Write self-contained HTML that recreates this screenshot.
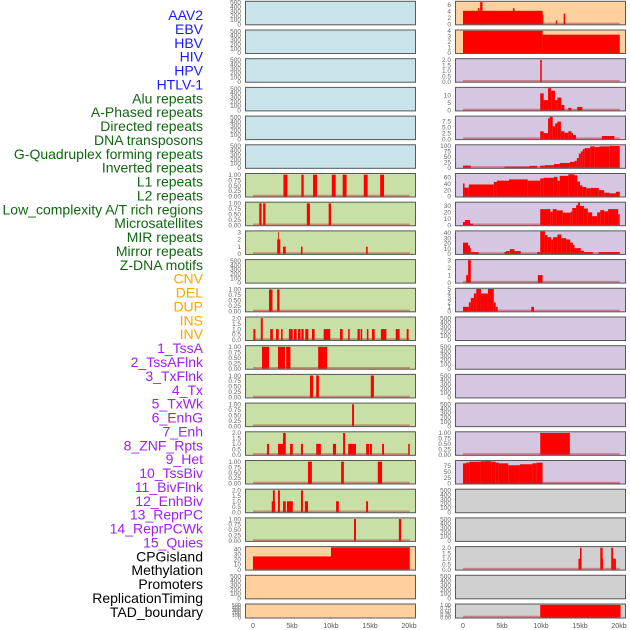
<!DOCTYPE html>
<html><head><meta charset="utf-8"><style>
html,body{margin:0;padding:0;background:#fff;}
svg{display:block;font-family:"Liberation Sans",sans-serif;}
</style></head><body>
<svg id="chart" width="630" height="630" viewBox="0 0 630 630" xmlns="http://www.w3.org/2000/svg">
<g id="labels"></g>
<g id="panels"></g>
<g id="axes"></g>
</svg>
<script>
const labelNames = ["AAV2","EBV","HBV","HIV","HPV","HTLV-1","Alu repeats","A-Phased repeats","Directed repeats","DNA transposons","G-Quadruplex forming repeats","Inverted repeats","L1 repeats","L2 repeats","Low_complexity A/T rich regions","Microsatellites","MIR repeats","Mirror repeats","Z-DNA motifs","CNV","DEL","DUP","INS","INV","1_TssA","2_TssAFlnk","3_TxFlnk","4_Tx","5_TxWk","6_EnhG","7_Enh","8_ZNF_Rpts","9_Het","10_TssBiv","11_BivFlnk","12_EnhBiv","13_ReprPC","14_ReprPCWk","15_Quies","CPGisland","Methylation","Promoters","ReplicationTiming","TAD_boundary"];
const labelGroups = [6,13,5,15,5];
const groupColors = ["#1a1aff","#116611","#ffa500","#a020f0","#000000"];
const xTicks = [0,5000,10000,15000,20000];
const xTickLabels = ["0","5kb","10kb","15kb","20kb"];

// segments: [startKb, endKb, value]
const L6 = [[3.9,4.4,1],[6.2,6.5,1],[7.7,8.2,1],[10.1,10.6,1],[11.5,12.0,1],[14.2,14.7,1],[16.3,16.8,1]];
const L7 = [[0.8,1.1,1],[1.3,1.6,1],[6.9,7.3,1],[9.7,10.0,1]];
const L8 = [[3.1,3.5,2],[3.2,3.3,3],[3.85,4.2,1],[6.15,6.35,1],[14.5,14.7,1]];
const L10 = [[2.05,2.5,1],[3.1,3.4,1]];
const L11 = [[0.05,0.3,1],[1.0,1.25,2],[2.2,2.55,1],[2.95,3.3,1],[3.6,3.8,1],[4.6,5.1,1],[5.25,5.6,1],[5.77,6.1,1],[6.2,6.5,1],[6.7,7.1,1],[7.56,7.9,1],[9.06,9.9,1],[11.15,11.5,1],[12.2,12.4,1],[13.4,13.7,1],[13.8,14.0,1],[14.6,14.8,1],[15.25,15.6,1],[16.4,17.1,1],[18.3,18.8,1],[19.7,19.95,1]];
const L12 = [[1.15,2.05,1],[3.2,4.1,1],[4.25,4.8,1],[8.35,9.5,1]];
const L13 = [[7.3,7.7,1],[8.1,8.45,1],[15.1,15.5,1]];
const L14 = [[12.7,12.95,1]];
const L15 = [[1.8,2.05,1],[3.2,3.85,1],[3.85,4.2,2],[4.75,5.1,1],[6.15,6.4,1],[8.1,8.7,1],[10.25,10.65,1],[11.55,11.8,2],[12.2,13.2,1],[14.5,14.9,1],[15.0,15.25,1],[16.55,16.8,1],[19.9,20.1,1]];
const L16 = [[7.05,7.55,1],[11.3,11.65,1],[16.0,16.55,1]];
const L17 = [[2.4,2.8,1],[2.55,2.8,2],[3.2,3.45,2],[3.85,4.2,1],[4.35,5.1,1],[6.15,6.4,2],[6.65,7.05,1],[10.65,11.0,1],[14.5,14.75,1]];
const L18 = [[12.95,13.2,1],[18.7,19.0,1]];
const L19 = [[0,10.0,26],[10.0,20.1,44]];
const R0 = [[0,10.2,4.2],[1.9,2.1,5],[2.2,2.5,6.9],[6.4,6.6,5],[10.2,10.3,3],[11.9,12.05,1.2],[12.9,13.1,3.3]];
const R1 = [[0,10.2,4],[10.2,20.1,3.3]];
const R2 = [[9.9,10.1,2]];
const R3 = [[9.9,10.34,11.3],[10.34,10.9,6.8],[10.9,11.3,14.7],[11.3,11.8,13],[11.8,12.1,6.8],[12.1,12.6,8.5],[12.6,13.0,3.6],[13.5,13.9,1.7],[14.65,15.3,2.3]];
const R4 = [[9.9,10.34,3.3],[10.34,10.9,2.5],[10.9,11.1,8.7],[11.1,11.5,9.4],[11.5,11.8,5.4],[11.8,12.1,6.6],[12.1,12.55,7.4],[12.55,13.0,3.3],[13.0,13.5,2.7],[13.5,13.9,3.3],[13.9,14.1,2.5],[14.1,14.5,1.7],[17.8,19.4,1.3]];
const R5 = [[0,1.0,10],[5.3,8.5,5],[8.5,9.5,9],[9.9,10.5,10],[10.5,11.65,12],[11.65,12.4,17],[12.4,13.7,22],[13.7,14.3,27],[14.3,14.6,32],[14.6,14.85,45],[14.85,15.1,65],[15.1,15.35,75],[15.35,15.6,85],[15.6,16.3,90],[16.3,16.9,98],[16.9,17.5,95],[17.5,18.8,98],[18.8,20.1,100]];
const R6 = [[0,0.2,41],[0.2,0.75,28],[0.75,3.95,38],[3.95,4.35,46],[4.35,5.9,50],[5.9,8.3,54],[8.3,9.9,50],[9.9,10.34,57],[10.34,11.65,59],[11.65,12.1,62],[12.1,12.4,50],[12.4,13.5,65],[13.5,14.3,70],[14.3,14.65,67],[14.65,15.0,47],[15.0,15.3,35],[15.3,15.8,30],[15.8,16.4,26],[16.4,17.4,27],[17.4,18.1,20],[18.1,18.8,12],[18.8,19.6,10],[19.6,20.1,15]];
const R7 = [[0,0.25,5],[0.25,0.9,8],[0.9,1.3,2.5],[9.9,11.2,25],[11.2,11.5,21],[11.5,12.0,25],[12.0,12.8,23],[12.8,13.8,19.5],[13.8,14.0,21],[14.0,14.5,26.7],[14.5,14.75,31],[14.75,15.0,35],[15.0,15.5,30],[15.5,16.0,26],[16.0,16.55,20],[16.55,17.2,14],[17.2,17.6,20],[17.6,18.1,23.5],[18.1,18.6,21.5],[18.6,19.9,25],[19.9,20.1,17]];
const R8 = [[0,0.65,21.5],[0.65,0.9,16],[0.9,1.0,11],[1.0,2.0,3.6],[5.3,5.5,3.6],[5.5,6.0,5.4],[6.0,6.6,9],[6.6,7.4,5.4],[9.5,9.9,3.6],[9.9,10.5,43],[10.5,10.8,36],[10.8,11.3,32],[11.3,11.55,27.5],[11.55,12.1,32],[12.1,12.6,37],[12.6,13.25,30],[13.25,13.75,27.5],[13.75,14.1,21.5],[14.1,14.3,17],[14.3,15.1,11],[15.1,15.5,6],[15.5,16.65,3.6],[17.4,20.1,3.6]];
const R9 = [[0.4,0.65,1],[0.65,1.0,3],[9.6,10.2,1]];
const R10 = [[0,0.75,1],[0.75,1.0,2],[1.0,1.4,3],[1.4,1.7,4],[1.7,2.3,5],[2.3,3.2,4],[3.2,3.95,5],[3.95,4.2,2],[4.2,4.45,1],[8.75,9.1,1]];
const R15 = [[9.9,13.7,1]];
const R16 = [[0,0.4,86],[0.4,0.8,89],[0.8,2.3,93],[2.3,3.6,95],[3.6,4.2,93],[4.2,4.6,89],[4.6,5.8,86],[5.8,7.3,78],[7.3,8.9,82],[8.9,9.4,86],[9.4,10.2,89],[10.2,20.2,1]];
const R19 = [[14.8,15.1,1],[15.0,15.2,2],[17.6,17.9,2],[17.75,17.95,1],[19.0,19.25,2],[19.25,19.6,1]];
const R21 = [[9.9,20.2,1]];

const tk500 = [0,100,200,300,400,500];
const tk1 = [0,0.25,0.5,0.75,1];
const tk2 = [0,0.5,1,1.5,2];
const BLUE="#c8e3ea", GREEN="#c8e0a5", ORANGE="#fdd09e", PURPLE="#d5c6e1", GRAY="#d0d0d0";
// [column, row, background, segments, yMax, ticks, decimals, name]
const panelDefs = [
 [0,0,BLUE,null,515,tk500,0,"aav2"],[0,1,BLUE,null,515,tk500,0,"ebv"],[0,2,BLUE,null,515,tk500,0,"hbv"],
 [0,3,BLUE,null,515,tk500,0,"hiv"],[0,4,BLUE,null,515,tk500,0,"hpv"],[0,5,BLUE,null,515,tk500,0,"htlv1"],
 [0,6,GREEN,L6,1.03,tk1,2,"cnv"],[0,7,GREEN,L7,1.03,tk1,2,"del"],[0,8,GREEN,L8,3.1,[0,1,2,3],0,"dup"],
 [0,9,GREEN,null,515,tk500,0,"ins"],[0,10,GREEN,L10,1.03,tk1,2,"inv"],[0,11,GREEN,L11,2.06,tk2,1,"state-1"],
 [0,12,GREEN,L12,1.03,tk1,2,"state-2"],[0,13,GREEN,L13,1.03,tk1,2,"state-3"],[0,14,GREEN,L14,1.03,tk1,2,"state-4"],
 [0,15,GREEN,L15,2.06,tk2,1,"state-5"],[0,16,GREEN,L16,1.03,tk1,2,"state-6"],[0,17,GREEN,L17,2.06,tk2,1,"state-7"],
 [0,18,GREEN,L18,1.03,tk1,2,"state-8"],[0,19,ORANGE,L19,44.4,[0,10,20,30,40],0,"cpg"],[0,20,ORANGE,null,515,tk500,0,"methylation"],
 [0,21,ORANGE,null,515,tk500,0,"promoters"],
 [1,0,ORANGE,R0,7.0,[0,2,4,6],0,"r-aav2"],[1,1,ORANGE,R1,4.05,[0,1,2,3,4],0,"r-ebv"],[1,2,PURPLE,R2,2.06,tk2,1,"r-hiv"],
 [1,3,PURPLE,R3,14.9,[0,5,10],0,"r-alu"],[1,4,PURPLE,R4,9.5,[0,2.5,5,7.5],1,"r-directed"],[1,5,PURPLE,R5,103,[0,25,50,75,100],0,"r-gquad"],
 [1,6,PURPLE,R6,71,[0,20,40,60],0,"r-l1"],[1,7,PURPLE,R7,35,[0,10,20,30],0,"r-l2"],[1,8,PURPLE,R8,43,[0,10,20,30,40],0,"r-microsat"],
 [1,9,PURPLE,R9,3.0,[0,1,2,3],0,"r-mir"],[1,10,PURPLE,R10,5.05,[0,1,2,3,4,5],0,"r-zdna"],[1,11,PURPLE,null,515,tk500,0,"r-empty-11"],
 [1,12,PURPLE,null,515,tk500,0,"r-empty-12"],[1,13,PURPLE,null,515,tk500,0,"r-empty-13"],[1,14,PURPLE,null,515,tk500,0,"r-empty-14"],
 [1,15,PURPLE,R15,1.03,tk1,2,"r-state-15"],[1,16,PURPLE,R16,96,[0,25,50,75],0,"r-state-16"],[1,17,GRAY,null,515,tk500,0,"r-empty-17"],
 [1,18,GRAY,null,515,tk500,0,"r-empty-18"],[1,19,GRAY,R19,2.06,tk2,1,"r-state-19"],[1,20,GRAY,null,515,tk500,0,"r-empty-20"],
 [1,21,GRAY,R21,1.03,tk1,2,"r-tad"]
];

const NS="http://www.w3.org/2000/svg";
function mk(tag, attrs, parent){const e=document.createElementNS(NS,tag);for(const k in attrs)e.setAttribute(k,attrs[k]);parent.appendChild(e);return e;}

// labels
const lg=document.getElementById('labels');
let gi=0,cnt=0;
labelNames.forEach((name,i)=>{
  while(cnt>=labelGroups[gi]){cnt-=labelGroups[gi];gi++;}
  const t=mk('text',{x:203,y:15+i*13.88+5,'text-anchor':'end','font-size':'14',fill:groupColors[gi]},lg);
  
  
  t.textContent=name;cnt++;
});

const colX=[245,455], colW=171, x0Off=8, pxPerKb=7.8;
function xScale(col,kb){return colX[col]+x0Off+kb*pxPerKb;}
const pg=document.getElementById('panels');
panelDefs.forEach(d=>{
  const [col,row,bg,segs,ymax,ticks,dec,name]=d;
  const top=0.8+row*28.7, h=(row===21)?15:24.5, bot=top+h;
  const g=mk('g',{},pg);
  
  
  const r=mk('rect',{x:colX[col],y:top,width:colW,height:h,fill:bg,stroke:'none'},g);
  
  
  const yS=v=>bot-1-(v/ymax)*(h-2);
  ticks.forEach(tv=>{
    const t=mk('text',{x:colX[col]-4,y:yS(tv)+2.2,'text-anchor':'end','font-size':(row===21?'5.5':'6.5'),fill:'#666'},g);
    
    
    t.textContent=tv.toFixed(dec);
  });
  if(segs){
    segs.forEach(s=>{
      const x1=xScale(col,s[0]),x2=xScale(col,s[1]);
      const b=mk('rect',{x:x1,y:yS(s[2]),width:Math.max(0.8,x2-x1),height:bot-1-yS(s[2]),fill:'#ff0000'},g);
      
      
    });
    const ln=mk('line',{x1:xScale(col,0),x2:xScale(col,20.1),y1:bot-1.8,y2:bot-1.8,stroke:'rgba(190,40,40,0.45)','stroke-width':'1.8'},g);
    
    
  }
  const fr=mk('rect',{x:colX[col]+0.5,y:top+0.5,width:colW-1,height:h-1,fill:'none',stroke:'#5a5a5a','stroke-width':'1'},g);
  
  
});

const ag=document.getElementById('axes');
[0,1].forEach(col=>{
  xTicks.forEach((v,i)=>{
    const x=xScale(col,v/1000);
    const tl=mk('line',{x1:x,x2:x,y1:617,y2:619,stroke:'#888','stroke-width':'0.8'},ag);
    
    
    const t=mk('text',{x:x,y:628,'text-anchor':'middle','font-size':'7',fill:'#555'},ag);
    
    
    t.textContent=xTickLabels[i];
  });
});
</script>
</body></html>
